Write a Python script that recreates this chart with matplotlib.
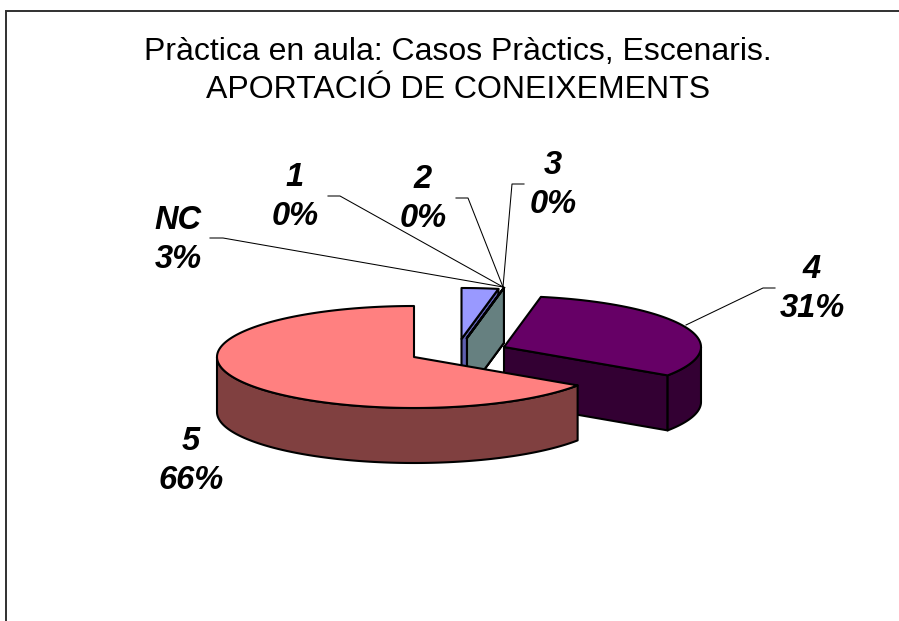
import numpy as np
import matplotlib
matplotlib.use("Agg")
import matplotlib.pyplot as plt
from matplotlib.patches import Polygon

title_lines = ["Pràctica en aula: Casos Pràctics, Escenaris.", "APORTACIÓ DE CONEIXEMENTS"]
categories = ["NC", "1", "2", "3", "4", "5"]
values = [3.0, 0.0, 0.0, 0.0, 31.4, 65.6]
top_colors = ["#9999FF", "#993366", "#FFFFCC", "#CCFFFF", "#660066", "#FF8080"]
side_colors = ["#5F5FB0", "#4D1A33", "#808066", "#668080", "#330033", "#804040"]
centers = {"NC": (461.5, 339), "1": (467, 338), "2": (467, 338), "3": (467, 338),
           "4": (504, 347), "5": (414, 357)}
label_pos = {"NC": (178, 240), "1": (295, 197), "2": (423, 199), "3": (553, 185),
             "4": (812, 289), "5": (191, 461)}
leaders = {"NC": [(210, 238), (223, 238), (503, 287)], "1": [(328, 196), (340, 196), (503, 287)],
           "2": [(456, 198), (468, 198), (503, 287)], "3": [(524, 184), (512, 184), (503, 287)],
           "4": [(775, 288), (763, 288), (686, 325)]}
A, B, DEPTH = 197, 51, 55
LW = 1.5

def pt(c, ang, dz=0):
    r = np.radians(ang)
    return (c[0] + A * np.sin(r), c[1] - B * np.cos(r) + dz)

def arc(c, a0, a1, dz=0):
    n = max(int(abs(a1 - a0)), 1) + 1
    return [pt(c, a, dz) for a in np.linspace(a0, a1, n)]

fig = plt.figure(figsize=(8.99, 6.21), dpi=100)
ax = fig.add_axes([0, 0, 1, 1])
ax.set_xlim(0, 899)
ax.set_ylim(621, 0)
ax.axis("off")

# frame: right and bottom sides fall outside the image
ax.plot([6, 6, 910], [630, 11, 11], color="#303030", lw=1.4, solid_joinstyle="miter")

edges = np.concatenate([[0], np.cumsum(values)]) * 3.6
span = {c: (edges[i], edges[i + 1]) for i, c in enumerate(categories)}
idx = {c: i for i, c in enumerate(categories)}

def poly(pts, fc, z):
    ax.add_patch(Polygon(pts, closed=True, fc=fc, ec="black", lw=LW, joinstyle="round", zorder=z))

for z, c in enumerate(["NC", "1", "2", "3"]):
    ctr = centers[c]
    a0, a1 = span[c]
    i = idx[c]
    poly([ctr, pt(ctr, a1), pt(ctr, a1, DEPTH), (ctr[0], ctr[1] + DEPTH)], side_colors[i], 2 + z)
    if values[i] > 0:
        poly([ctr] + arc(ctr, a0, a1), top_colors[i], 6)
    else:
        ax.plot(*zip(ctr, pt(ctr, a1)), color="black", lw=LW, zorder=7)

c = "4"; ctr = centers[c]; i = idx[c]; a0, a1 = span[c]
poly([ctr, pt(ctr, a1), pt(ctr, a1, DEPTH), (ctr[0], ctr[1] + DEPTH)], side_colors[i], 8)
poly(arc(ctr, 90, a1) + arc(ctr, a1, 90, DEPTH), side_colors[i], 9)
poly([ctr] + arc(ctr, a0, a1), top_colors[i], 10)

c = "5"; ctr = centers[c]; i = idx[c]; a0, a1 = span[c]
poly(arc(ctr, a0, 270) + arc(ctr, 270, a0, DEPTH), side_colors[i], 11)
poly([ctr] + arc(ctr, a0, a1), top_colors[i], 12)

for c, p in leaders.items():
    ax.plot(*zip(*p), color="black", lw=0.75, zorder=13)

total = sum(values)
for c, v in zip(categories, values):
    x, y = label_pos[c]
    ax.text(x, y, f"{c}\n{round(v / total * 100):d}%", ha="center", va="center",
            family="Liberation Sans", style="italic", weight="bold", fontsize=23.5,
            linespacing=1.33, zorder=14)

ax.text(458, 71, "\n".join(title_lines), ha="center", va="center", family="Liberation Sans",
        fontsize=23, linespacing=1.33, color="black", zorder=14)

fig.savefig("out.png", dpi=100)
